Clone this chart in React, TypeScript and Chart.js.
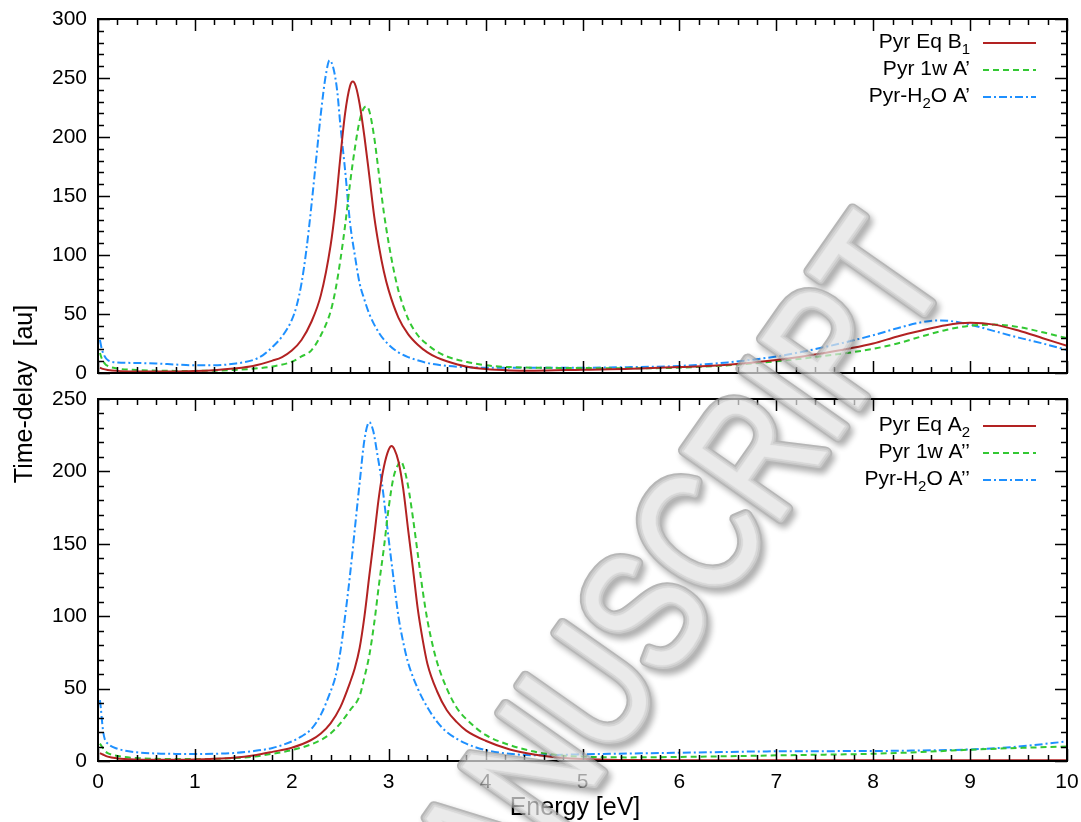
import { useEffect, useRef } from "react";
import { Chart, registerables } from "chart.js";

Chart.register(...registerables);

const FONT = '"Liberation Sans", Arial, Helvetica, sans-serif';

// Axis setup shared by both panels
const ENERGY_MIN = 0;
const ENERGY_MAX = 10;
const ENERGY_STEP = 1;
const Y_STEP = 50;
const MINOR_DIVISIONS = 5;
const UPPER_Y_MAX = 300;
const LOWER_Y_MAX = 250;

const X_TITLE = "Energy [eV]";
const Y_TITLE = "Time-delay  [au]";
const WATERMARK = "MANUSCRIPT";

// Legend entries ("_x" marks a subscript character)
const upperLabels = ["Pyr Eq B_1", "Pyr 1w A’", "Pyr-H_2O A’"];
const lowerLabels = ["Pyr Eq A_2", "Pyr 1w A’’", "Pyr-H_2O A’’"];

const seriesColors = ["#b22222", "#33c833", "#1e90ff"];
const seriesDashes = [[], [6, 4], [8, 3, 2, 3]];

// ---- Upper panel: B1 / A' ----
const upperEqEnergy = [0.02, 0.05, 0.1, 0.2, 0.4, 0.6, 0.8, 1.0, 1.2, 1.4, 1.6, 1.8, 1.9, 2.0, 2.1, 2.2, 2.3, 2.4, 2.45, 2.5, 2.55, 2.6, 2.63, 2.66, 2.7, 2.75, 2.8, 2.85, 2.9, 2.95, 3.0, 3.1, 3.2, 3.3, 3.4, 3.5, 3.6, 3.8, 4.0, 4.25, 4.5, 5.0, 5.5, 6.0, 6.5, 7.0, 7.5, 8.0, 8.25, 8.5, 8.75, 9.0, 9.25, 9.5, 9.75, 10.0];
const upperEqValue = [4.5, 3.5, 2.6, 1.8, 1.3, 1.2, 1.3, 1.6, 2.4, 3.8, 6, 10.5, 13.5, 19, 28, 43, 66, 108, 140, 182, 220, 243, 247, 243, 228, 200, 167, 133, 107, 86, 70, 47, 33, 24, 17.5, 13, 10, 5.5, 3.3, 2.2, 2.0, 2.8, 3.5, 5, 7, 11, 17, 25, 31, 36, 40.5, 42.5, 41, 36, 29.5, 23];

const upper1wEnergy = [0.02, 0.04, 0.07, 0.1, 0.2, 0.4, 0.6, 0.8, 1.0, 1.2, 1.4, 1.6, 1.8, 2.0, 2.1, 2.2, 2.3, 2.4, 2.45, 2.5, 2.55, 2.6, 2.65, 2.7, 2.74, 2.77, 2.8, 2.85, 2.9, 2.95, 3.0, 3.05, 3.1, 3.2, 3.3, 3.4, 3.5, 3.6, 3.8, 4.0, 4.25, 4.5, 5.0, 5.5, 6.0, 6.5, 7.0, 7.5, 8.0, 8.25, 8.5, 8.75, 9.0, 9.25, 9.5, 9.75, 10.0];
const upper1wValue = [17, 12, 8, 6, 3.8, 2.5, 2, 1.8, 1.8, 2, 2.6, 3.6, 5.5, 9.5, 14, 19, 32, 52, 70, 95, 125, 160, 190, 214, 224, 226, 222, 200, 168, 136, 110, 88, 70, 46, 32, 24, 18, 14, 9.5, 6.5, 5, 4.5, 4.2, 4, 4.5, 6.5, 10, 14.5, 20.5, 25, 31, 36.5, 40, 41, 39, 34.5, 29.5];

const upperH2oEnergy = [0.02, 0.04, 0.07, 0.1, 0.2, 0.4, 0.6, 0.8, 1.0, 1.2, 1.4, 1.6, 1.7, 1.8, 1.9, 2.0, 2.05, 2.1, 2.15, 2.2, 2.25, 2.3, 2.35, 2.39, 2.43, 2.47, 2.5, 2.55, 2.6, 2.65, 2.7, 2.75, 2.8, 2.9, 3.0, 3.1, 3.2, 3.4, 3.6, 3.8, 4.0, 4.5, 5.0, 5.5, 6.0, 6.5, 7.0, 7.5, 8.0, 8.25, 8.5, 8.65, 8.8, 9.0, 9.25, 9.5, 9.75, 10.0];
const upperH2oValue = [28, 20, 14, 11, 9, 8.5, 8, 7.2, 6.5, 6.5, 7.8, 11, 15, 22, 31, 45, 57, 76, 104, 140, 180, 220, 252, 265, 258, 238, 211, 172, 128, 100, 76, 62, 50, 34, 24, 17.5, 13.5, 8.5, 6, 5, 4.5, 4.5, 4.5, 5, 6, 9, 14, 22, 32, 38, 43, 44.5, 44, 41, 35.5, 30, 25, 19.5];

// ---- Lower panel: A2 / A'' ----
const lowerEqEnergy = [0.02, 0.05, 0.1, 0.2, 0.4, 0.6, 0.8, 1.0, 1.2, 1.4, 1.6, 1.8, 2.0, 2.2, 2.3, 2.4, 2.5, 2.6, 2.65, 2.7, 2.75, 2.8, 2.85, 2.9, 2.95, 3.0, 3.03, 3.06, 3.1, 3.15, 3.2, 3.25, 3.3, 3.35, 3.4, 3.5, 3.6, 3.7, 3.8, 4.0, 4.25, 4.5, 4.75, 5.0, 5.5, 6.0, 7.0, 8.0, 9.0, 10.0];
const lowerEqValue = [5.5, 4.5, 3, 1.8, 1.0, 0.8, 0.8, 1.0, 1.5, 2.3, 3.8, 6.3, 9.2, 14.5, 19, 26, 37, 54, 64, 78, 100, 128, 155, 183, 203, 215, 217.5, 215, 207, 188, 160, 133, 105, 84, 67, 48, 35, 27, 21, 14, 8, 4.5, 2.5, 1.3, 0.7, 0.5, 0.5, 0.5, 0.5, 0.5];

const lower1wEnergy = [0.02, 0.04, 0.07, 0.1, 0.2, 0.4, 0.6, 0.8, 1.0, 1.2, 1.4, 1.6, 1.8, 2.0, 2.2, 2.3, 2.4, 2.5, 2.6, 2.7, 2.75, 2.8, 2.85, 2.9, 2.95, 3.0, 3.05, 3.1, 3.12, 3.15, 3.2, 3.25, 3.3, 3.35, 3.4, 3.45, 3.5, 3.6, 3.7, 3.8, 4.0, 4.25, 4.5, 4.75, 5.0, 5.5, 6.0, 6.5, 7.0, 7.5, 8.0, 8.5, 9.0, 9.5, 10.0];
const lower1wValue = [12, 10, 7, 5.5, 3.5, 2, 1.5, 1.3, 1.3, 1.5, 2, 3, 5, 7.5, 11.5, 14.5, 19, 26, 35, 45, 58, 73, 95, 122, 147, 175, 196, 205, 207, 204, 190, 168, 143, 118, 97, 81, 68, 50, 37, 29, 18, 11, 6.5, 4, 3, 2.5, 2.8, 3.3, 3.9, 4.4, 5, 6.2, 7.8, 9, 10];

const lowerH2oEnergy = [0.02, 0.03, 0.05, 0.07, 0.1, 0.2, 0.4, 0.6, 0.8, 1.0, 1.2, 1.4, 1.6, 1.8, 2.0, 2.1, 2.2, 2.3, 2.4, 2.45, 2.5, 2.55, 2.6, 2.65, 2.7, 2.75, 2.8, 2.84, 2.88, 2.93, 2.97, 3.0, 3.05, 3.1, 3.15, 3.2, 3.3, 3.4, 3.5, 3.6, 3.8, 4.0, 4.25, 4.5, 5.0, 5.5, 6.0, 7.0, 8.0, 8.5, 9.0, 9.5, 10.0];
const lowerH2oValue = [42, 36, 22, 15, 12, 8.5, 6, 5.2, 4.9, 4.8, 5, 5.5, 6.8, 9, 13.5, 17, 22, 32, 48, 58, 75, 100, 128, 160, 192, 222, 234, 228, 213, 192, 170, 153, 126, 100, 82, 68, 50, 37, 27, 20, 12, 7.5, 5, 4, 4.6, 5.2, 5.7, 6.7, 6.9, 7.3, 8, 10, 13.5];

const upperSeries = [
  { label: upperLabels[0], energy: upperEqEnergy, value: upperEqValue },
  { label: upperLabels[1], energy: upper1wEnergy, value: upper1wValue },
  { label: upperLabels[2], energy: upperH2oEnergy, value: upperH2oValue },
];
const lowerSeries = [
  { label: lowerLabels[0], energy: lowerEqEnergy, value: lowerEqValue },
  { label: lowerLabels[1], energy: lower1wEnergy, value: lower1wValue },
  { label: lowerLabels[2], energy: lowerH2oEnergy, value: lowerH2oValue },
];

// Split "Pyr-H_2O" into plain and subscript runs
function parseLabel(s: string) {
  const parts: { t: string; sub: boolean }[] = [];
  let buf = "";
  for (let i = 0; i < s.length; i++) {
    if (s[i] === "_" && i + 1 < s.length) {
      if (buf) parts.push({ t: buf, sub: false });
      buf = "";
      parts.push({ t: s[i + 1], sub: true });
      i++;
    } else {
      buf += s[i];
    }
  }
  if (buf) parts.push({ t: buf, sub: false });
  return parts;
}

// Black frame with inward major/minor ticks on all four sides
const frameTicks = {
  id: "frameTicks",
  afterDraw(chart: any) {
    const { ctx, chartArea: a, scales } = chart;
    const xs = scales.x;
    const ys = scales.y;
    const majorLen = 12;
    const minorLen = 6;
    ctx.save();
    ctx.strokeStyle = "#000";
    ctx.lineWidth = 1.5;
    ctx.beginPath();
    const nx = Math.round(((ENERGY_MAX - ENERGY_MIN) / ENERGY_STEP) * MINOR_DIVISIONS);
    for (let k = 0; k <= nx; k++) {
      const v = ENERGY_MIN + (k * ENERGY_STEP) / MINOR_DIVISIONS;
      const len = k % MINOR_DIVISIONS === 0 ? majorLen : minorLen;
      const px = Math.round(xs.getPixelForValue(v)) + 0.5;
      ctx.moveTo(px, a.bottom);
      ctx.lineTo(px, a.bottom - len);
      ctx.moveTo(px, a.top);
      ctx.lineTo(px, a.top + len);
    }
    const ny = Math.round((ys.max / Y_STEP) * MINOR_DIVISIONS);
    for (let k = 0; k <= ny; k++) {
      const v = (k * Y_STEP) / MINOR_DIVISIONS;
      const len = k % MINOR_DIVISIONS === 0 ? majorLen : minorLen;
      const py = Math.round(ys.getPixelForValue(v)) + 0.5;
      ctx.moveTo(a.left, py);
      ctx.lineTo(a.left + len, py);
      ctx.moveTo(a.right, py);
      ctx.lineTo(a.right - len, py);
    }
    ctx.stroke();
    ctx.lineWidth = 2;
    ctx.strokeRect(a.left, a.top, a.right - a.left, a.bottom - a.top);
    ctx.restore();
  },
};

// Key in the upper-right corner: right-aligned label, then the line sample
const panelLegend = {
  id: "panelLegend",
  afterDraw(chart: any, _args: any, opts: any) {
    const { ctx, chartArea: a } = chart;
    const mainFont = `21px ${FONT}`;
    const subFont = `15px ${FONT}`;
    ctx.save();
    chart.data.datasets.forEach((ds: any, i: number) => {
      const y = a.top + opts.top + i * opts.gap;
      const parts = parseLabel(ds.label);
      let total = 0;
      const widths = parts.map((p) => {
        ctx.font = p.sub ? subFont : mainFont;
        const w = ctx.measureText(p.t).width;
        total += w;
        return w;
      });
      let x = a.right - opts.textRight - total;
      ctx.fillStyle = "#000";
      ctx.textAlign = "left";
      ctx.textBaseline = "alphabetic";
      parts.forEach((p, k) => {
        ctx.font = p.sub ? subFont : mainFont;
        ctx.fillText(p.t, x, y + 5 + (p.sub ? 6 : 0));
        x += widths[k];
      });
      ctx.strokeStyle = ds.borderColor;
      ctx.lineWidth = ds.borderWidth;
      ctx.setLineDash(ds.borderDash || []);
      ctx.beginPath();
      ctx.moveTo(a.right - opts.lineStart, y);
      ctx.lineTo(a.right - opts.lineEnd, y);
      ctx.stroke();
      ctx.setLineDash([]);
    });
    ctx.restore();
  },
};

function buildChart(
  canvas: HTMLCanvasElement,
  series: { label: string; energy: number[]; value: number[] }[],
  yMax: number,
  showX: boolean,
  padTop: number,
  padBottom: number,
  legendTop: number
) {
  const tickFont = { family: FONT, size: 21 };
  return new Chart(canvas, {
    type: "line",
    data: {
      datasets: series.map((s, i) => ({
        label: s.label,
        data: s.energy.map((e, k) => ({ x: e, y: s.value[k] })),
        borderColor: seriesColors[i],
        borderDash: seriesDashes[i],
        borderWidth: 2,
        pointRadius: 0,
        fill: false,
        cubicInterpolationMode: "monotone",
      })),
    },
    options: {
      responsive: false,
      animation: false,
      events: [],
      layout: { padding: { left: 0, right: 14, top: padTop, bottom: padBottom } },
      plugins: {
        legend: { display: false },
        tooltip: { enabled: false },
        panelLegend: { top: legendTop, gap: 27, textRight: 97, lineStart: 84, lineEnd: 31 },
      } as any,
      scales: {
        x: {
          type: "linear",
          min: ENERGY_MIN,
          max: ENERGY_MAX,
          display: showX,
          grid: { display: false, drawTicks: false },
          border: { display: false },
          ticks: {
            stepSize: ENERGY_STEP,
            padding: 9,
            color: "#000",
            font: tickFont,
            maxRotation: 0,
            autoSkip: false,
          },
          afterFit: (s: any) => {
            s.height = showX ? 61 : 0;
            s.paddingLeft = 0;
            s.paddingRight = 0;
          },
        },
        y: {
          type: "linear",
          min: 0,
          max: yMax,
          grid: { display: false, drawTicks: false },
          border: { display: false },
          ticks: { stepSize: Y_STEP, padding: 11, color: "#000", font: tickFont },
          afterFit: (s: any) => {
            s.width = 98;
            s.paddingTop = 0;
            s.paddingBottom = 0;
          },
        },
      },
    },
    plugins: [frameTicks, panelLegend],
  } as any);
}

// Grey tube-like lettering: layered outlines from dark rim to light core
function drawWatermark(ctx: CanvasRenderingContext2D, w: number, h: number) {
  const off = document.createElement("canvas");
  off.width = w;
  off.height = h;
  const o = off.getContext("2d");
  if (!o) return;
  o.translate(655, 615);
  o.rotate((-55 * Math.PI) / 180);
  o.scale(0.8, 1);
  o.font = `170px ${FONT}`;
  o.textAlign = "center";
  o.textBaseline = "middle";
  o.lineJoin = "round";
  o.lineCap = "round";

  o.save();
  o.shadowColor = "rgba(0,0,0,0.45)";
  o.shadowBlur = 6;
  o.shadowOffsetX = 3;
  o.shadowOffsetY = 4;
  o.strokeStyle = "#9a9a9a";
  o.lineWidth = 13;
  o.strokeText(WATERMARK, 0, 0);
  o.restore();

  const layers = [
    { c: "#b4b4b4", lw: 9 },
    { c: "#cacaca", lw: 5 },
    { c: "#dadada", lw: 1 },
  ];
  layers.forEach((l) => {
    o.strokeStyle = l.c;
    o.lineWidth = l.lw;
    o.strokeText(WATERMARK, 0, 0);
  });
  o.fillStyle = "#e2e2e2";
  o.fillText(WATERMARK, 0, 0);

  ctx.save();
  ctx.globalAlpha = 0.72;
  ctx.drawImage(off, 0, 0);
  ctx.restore();
}

// Axis titles and the diagonal watermark, drawn over both panels
function drawOverlay(canvas: HTMLCanvasElement) {
  const ctx = canvas.getContext("2d");
  if (!ctx) return;
  ctx.clearRect(0, 0, canvas.width, canvas.height);
  ctx.fillStyle = "#000";
  ctx.font = `25px ${FONT}`;

  ctx.save();
  ctx.translate(32, 394);
  ctx.rotate(-Math.PI / 2);
  ctx.textAlign = "center";
  ctx.textBaseline = "alphabetic";
  ctx.fillText(Y_TITLE, 0, 0);
  ctx.restore();

  ctx.save();
  ctx.textAlign = "center";
  ctx.textBaseline = "alphabetic";
  ctx.fillText(X_TITLE, 575, 815);
  ctx.restore();

  drawWatermark(ctx, canvas.width, canvas.height);
}

export default function App() {
  const upperRef = useRef<HTMLCanvasElement>(null);
  const lowerRef = useRef<HTMLCanvasElement>(null);
  const overlayRef = useRef<HTMLCanvasElement>(null);

  useEffect(() => {
    if (!upperRef.current || !lowerRef.current || !overlayRef.current) return;
    const upper = buildChart(upperRef.current, upperSeries, UPPER_Y_MAX, false, 19, 13, 24);
    const lower = buildChart(lowerRef.current, lowerSeries, LOWER_Y_MAX, true, 13, 0, 27);
    drawOverlay(overlayRef.current);
    return () => {
      upper.destroy();
      lower.destroy();
    };
  }, []);

  return (
    <div style={{ position: "absolute", left: 0, top: 0, width: 1081, height: 822, background: "#fff" }}>
      <canvas ref={upperRef} width={1081} height={386} style={{ position: "absolute", left: 0, top: 0 }} />
      <canvas ref={lowerRef} width={1081} height={436} style={{ position: "absolute", left: 0, top: 386 }} />
      <canvas
        ref={overlayRef}
        width={1081}
        height={822}
        style={{ position: "absolute", left: 0, top: 0, pointerEvents: "none" }}
      />
    </div>
  );
}
